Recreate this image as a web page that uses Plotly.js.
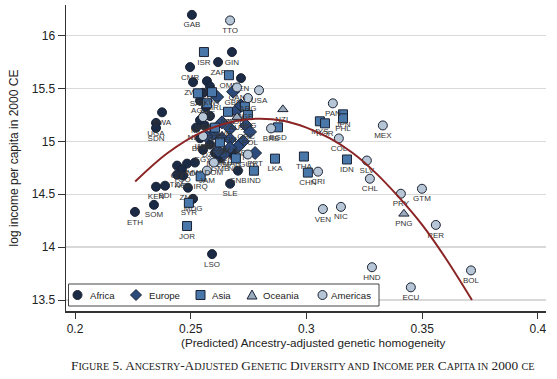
<!DOCTYPE html>
<html><head><meta charset="utf-8">
<script src="https://cdn.plot.ly/plotly-3.0.1.min.js"></script>
<style>body{margin:0;background:#fff}#chart{width:557px;height:379px}</style>
</head><body><div id="chart"></div><script>
const africaLab = ["GAB","GIN","ZAF","CMR","SEN","ZWE","BWA","UGA","SDN","KEN","BDI","SOM","ETH","MDG","LSO","GNB","SLE","MAR","CIV","TCD","TGO","TZA","NGA","ZMB","NAM","COG","TUN","AGO","CAF","MOZ","GHA","NER","MLI","BFA","BEN","DZA","EGY","MRT","GMB","MWI"];
const africaX = [0.2505,0.2678,0.2618,0.2497,0.2717,0.2510,0.2376,0.2350,0.2350,0.2350,0.2389,0.2341,0.2259,0.2510,0.2592,0.2704,0.2670,0.2678,0.2441,0.2484,0.2462,0.2441,0.2467,0.2488,0.2570,0.2583,0.2553,0.2540,0.2566,0.2540,0.2583,0.2523,0.2561,0.2605,0.2540,0.2583,0.2553,0.2605,0.2627,0.2518];
const africaY = [16.197,15.845,15.750,15.703,15.598,15.560,15.275,15.175,15.127,14.571,14.581,14.400,14.333,14.457,13.934,14.723,14.600,14.885,14.771,14.790,14.733,14.685,14.676,14.562,15.570,15.520,15.460,15.385,15.320,15.200,15.240,15.130,15.150,15.130,15.030,14.970,14.920,14.890,14.840,14.800];
const europeLab = ["GBR","IRL","NOR","DNK","SWE","FIN","FRA","DEU","NLD","BEL","AUT","ESP","ITA","PRT","GRC","CHE","HUN","POL"];
const europeX = [0.2683,0.2614,0.2696,0.2717,0.2635,0.2670,0.2596,0.2635,0.2670,0.2726,0.2704,0.2644,0.2618,0.2778,0.2739,0.2670,0.2566,0.2756];
const europeY = [15.470,15.420,15.290,15.340,15.180,15.120,15.070,15.030,15.020,15.000,14.950,14.880,14.910,14.890,15.150,14.940,15.050,15.090];
const asiaLab = ["ISR","OMN","SAU","KWT","ARE","SGP","IRN","TUR","PAK","NPL","IRQ","SYR","JOR","BGD","LKA","IND","THA","CHN","IDN","MYS","KOR","JPN","PHL","HKG"];
const asiaX = [0.2557,0.2665,0.2531,0.2592,0.2570,0.2734,0.2661,0.2605,0.2626,0.2695,0.2543,0.2492,0.2484,0.2877,0.2864,0.2773,0.2989,0.3006,0.3175,0.3058,0.3080,0.3158,0.3158,0.2747];
const asiaY = [15.845,15.626,15.455,15.465,15.360,15.330,15.280,15.130,14.990,14.840,14.669,14.419,14.200,15.133,14.837,14.723,14.857,14.705,14.829,15.190,15.171,15.256,15.218,15.250];
const oceaniaLab = ["NZL","PNG","AUS"];
const oceaniaX = [0.2898,0.3421,0.2700];
const oceaniaY = [15.303,14.315,15.230];
const americasLab = ["TTO","USA","CAN","PAN","MEX","COL","CRI","SLV","CHL","PRY","GTM","VEN","NIC","PER","HND","BOL","ECU","BRB","GUY","JAM","ARG","BRA","URY","DOM"];
const americasX = [0.2670,0.2795,0.2700,0.3114,0.3330,0.3140,0.3050,0.3261,0.3274,0.3408,0.3499,0.3071,0.3149,0.3559,0.3283,0.3711,0.3451,0.2847,0.2747,0.2570,0.2747,0.2553,0.2553,0.2600];
const americasY = [16.144,15.484,15.510,15.360,15.151,15.028,14.714,14.819,14.647,14.505,14.552,14.360,14.381,14.210,13.810,13.780,13.620,15.123,14.876,14.724,15.410,15.230,15.050,14.800];
const fitX = [0.226,0.24,0.255,0.27,0.28,0.29,0.30,0.31,0.32,0.33,0.34,0.35,0.36,0.3715];
const fitY = [14.62,14.89,15.09,15.195,15.215,15.195,15.13,15.03,14.89,14.70,14.47,14.21,13.90,13.50];
const legendNames = ["Africa","Europe","Asia","Oceania","Americas"];
const xTicks = [0.2,0.25,0.3,0.35,0.4], xTickText = ["0.2","0.25","0.3","0.35","0.4"];
const yTicks = [13.5,14,14.5,15,15.5,16], yTickText = ["13.5","14","14.5","15","15.5","16"];

const groups = [
  {name:"Africa", x:africaX, y:africaY, t:africaLab, sym:"circle", col:"#1b2a45"},
  {name:"Europe", x:europeX, y:europeY, t:europeLab, sym:"diamond", col:"#2c4b7c"},
  {name:"Asia", x:asiaX, y:asiaY, t:asiaLab, sym:"square", col:"#4a77aa"},
  {name:"Oceania", x:oceaniaX, y:oceaniaY, t:oceaniaLab, sym:"triangle-up", col:"#9aabbd"},
  {name:"Americas", x:americasX, y:americasY, t:americasLab, sym:"circle", col:"#b7c6d6"}
];
const FONT = "Liberation Sans, Arial, sans-serif";
const EDGE = "#1a2233";
const traces = [];
groups.forEach(g => {
  traces.push({type:"scatter", mode:"markers+text", x:g.x, y:g.y, text:g.t, name:g.name,
    textposition:"bottom center", textfont:{family:FONT,size:8,color:"#333"},
    marker:{symbol:g.sym, size:g.sym==="diamond"?10:9, color:g.col, line:{color:EDGE,width:1}},
    showlegend:false, cliponaxis:false, hoverinfo:"skip"});
});
traces.push({type:"scatter", mode:"lines", x:fitX, y:fitY, line:{color:"#8b2525",width:2,shape:"spline"}, showlegend:false, hoverinfo:"skip"});

// compact legend box (Stata style) built from shapes + annotations
const W = 480, H = 306, L0 = 66, B0 = 311;
const px2x = p => (p - L0) / W, py2y = p => (B0 - p) / H;
const symX = [77.5, 136, 200.5, 252, 322.5], txtX = [88, 146.5, 210, 260.5, 329], legY = 295;
const shapes = [{type:"rect", xref:"paper", yref:"paper", x0:px2x(68.5), x1:px2x(379), y0:py2y(306), y1:py2y(284),
  fillcolor:"#fff", line:{color:"#444", width:1}, layer:"above"}];
const symPaths = {
  diamond:"M0,-5.5 L5.5,0 L0,5.5 L-5.5,0 Z",
  square:"M-4.5,-4.5 L4.5,-4.5 L4.5,4.5 L-4.5,4.5 Z",
  "triangle-up":"M-5,-4 L5,-4 L0,5 Z"
};
const annotations = [];
groups.forEach((g, i) => {
  const base = {xref:"paper", yref:"paper", xsizemode:"pixel", ysizemode:"pixel",
    xanchor:px2x(symX[i]), yanchor:py2y(legY), fillcolor:g.col, line:{color:EDGE, width:1}, layer:"above"};
  if (g.sym === "circle") shapes.push(Object.assign({type:"circle", x0:-4.5, x1:4.5, y0:-4.5, y1:4.5}, base));
  else shapes.push(Object.assign({type:"path", path:symPaths[g.sym]}, base));
  annotations.push({xref:"paper", yref:"paper", x:px2x(txtX[i]), y:py2y(legY), xanchor:"left", yanchor:"middle",
    showarrow:false, text:legendNames[i], font:{family:FONT, size:9.6, color:"#222"}});
});
annotations.push({xref:"paper", yref:"paper", x:px2x(313.5), y:py2y(342), xanchor:"center", yanchor:"middle", showarrow:false,
  text:"(Predicted) Ancestry-adjusted genetic homogeneity", font:{family:FONT, size:11.7, color:"#222"}});
const sc = s => `<span style="font-size:10.1px">${s}</span>`;
annotations.push({xref:"paper", yref:"paper", x:px2x(302), y:py2y(365), xanchor:"center", yanchor:"middle", showarrow:false,
  text:`F${sc("IGURE")} 5. A${sc("NCESTRY")}-A${sc("DJUSTED")} G${sc("ENETIC")} D${sc("IVERSITY AND")} I${sc("NCOME PER")} C${sc("APITA IN")} 2000 ${sc("CE")}`,
  font:{family:"Liberation Serif, Times New Roman, serif", size:13.3, color:"#222"}});

const layout = {
  width:557, height:379, paper_bgcolor:"#fff", plot_bgcolor:"#fff",
  margin:{l:L0, r:11, t:5, b:68},
  font:{family:FONT, color:"#222"},
  showlegend:false,
  xaxis:{range:[0.1961,0.4035], tickvals:xTicks, ticktext:xTickText,
    showgrid:false, zeroline:false, showline:true, linecolor:"#333", linewidth:1.5,
    ticks:"outside", ticklen:6, tickcolor:"#333", tickfont:{size:12, family:FONT}},
  yaxis:{range:[13.396,16.29], tickvals:yTicks, ticktext:yTickText,
    showgrid:true, gridcolor:"#d9d9d9", gridwidth:1.5, zeroline:false, showline:true, linecolor:"#333", linewidth:1.5,
    ticks:"outside", ticklen:7, tickcolor:"#333", tickfont:{size:12, family:FONT},
    title:{text:"log income per capita in 2000 CE", font:{size:12,family:FONT}, standoff:10}},
  shapes:shapes, annotations:annotations
};
Plotly.newPlot("chart", traces, layout, {staticPlot:true});
</script></body></html>
